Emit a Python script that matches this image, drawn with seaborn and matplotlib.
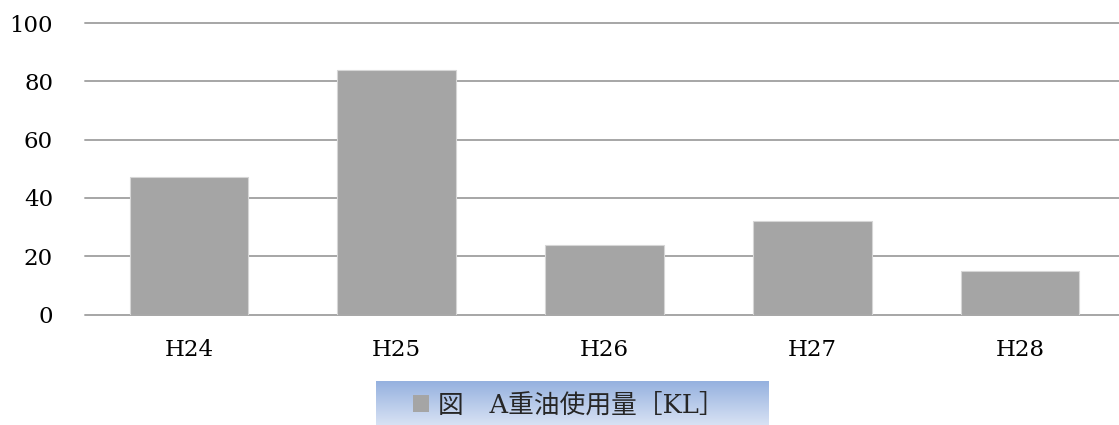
import matplotlib
matplotlib.use("Agg")
import matplotlib.pyplot as plt
import seaborn as sns
import numpy as np
import pandas as pd
from matplotlib.patches import Patch

categories = ["H24", "H25", "H26", "H27", "H28"]
values = [47, 84, 24, 32, 15]
series_label = "図\u3000A重油使用量［KL］"
y_ticks = [0, 20, 40, 60, 80, 100]

sns.set_theme(style="white")
plt.rcParams['font.family'] = ['DejaVu Serif', 'Noto Sans CJK JP', 'DejaVu Sans']

df = pd.DataFrame({"year": categories, "value": values})

fig = plt.figure(figsize=(11.19, 4.25), dpi=100)
ax = fig.add_axes([85/1119, 110.5/425, 1 - 85/1119, (402 - 110.5)/425])

bar_color = "#a5a5a5"
sns.barplot(data=df, x="year", y="value", color=bar_color, width=0.57,
            saturation=1, edgecolor="#d6d6d6", linewidth=0.8, ax=ax, zorder=3)

ax.set_xlim(-0.5, 4.476)
ax.set_ylim(0, 100)
ax.set_yticks(y_ticks)
ax.yaxis.grid(True, color="#a6a6a6", linewidth=1.4, zorder=0)
ax.set_axisbelow(True)
for s in ax.spines.values():
    s.set_visible(False)
ax.set_xlabel("")
ax.set_ylabel("")
ax.tick_params(axis="y", length=0, pad=23, labelsize=16.5, labelcolor="#000000")
ax.tick_params(axis="x", length=0, pad=18, labelsize=16.5, labelcolor="#000000")
for gl in ax.get_ygridlines():
    gl.set_clip_on(False)

# legend background with vertical gradient (darker blue at top)
lx0, lx1 = 376/1119, 769/1119
ly0, ly1 = 0.0, (425 - 381)/425
lax = fig.add_axes([lx0, ly0, lx1 - lx0, ly1 - ly0], zorder=-1)
top = np.array([0x95, 0xb1, 0xdf]) / 255
bot = np.array([0xd8, 0xe2, 0xf4]) / 255
t = np.linspace(0, 1, 100)[:, None]          # 0 = bottom row, 1 = top row
grad = (bot[None, :] * (1 - t) + top[None, :] * t)[:, None, :]
grad = np.repeat(grad, 2, axis=1)
lax.imshow(grad, aspect="auto", extent=[0, 1, 0, 1], origin="lower")
lax.set_axis_off()

handle = Patch(facecolor=bar_color, edgecolor="none")
fig.legend([handle], [series_label], loc="center",
           bbox_to_anchor=(569/1119, (425 - 405)/425),
           frameon=False, fontsize=18.5, handlelength=0.6, handleheight=0.6,
           handletextpad=0.35, borderpad=0)

fig.savefig("out.png", dpi=100)
